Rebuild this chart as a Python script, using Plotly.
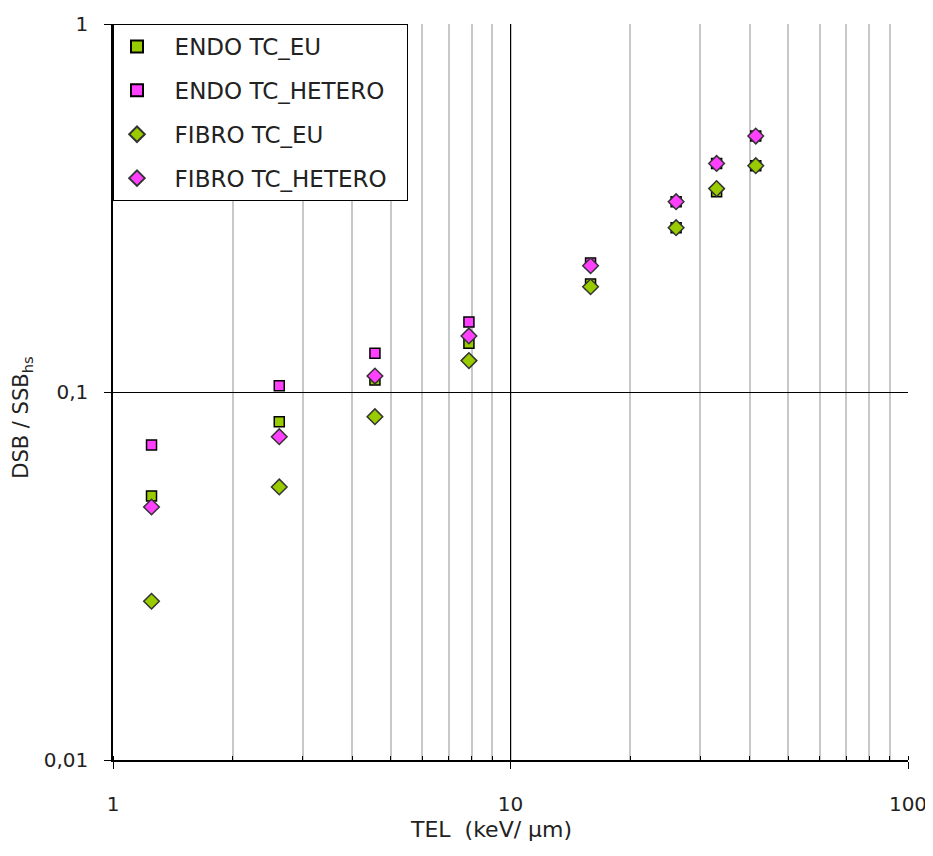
import plotly.graph_objects as go

# TEL values (keV/µm), shared by all series
tel = [1.25, 2.62, 4.56, 7.86, 15.9, 26.1, 33.0, 41.4]

endo_eu = [0.0522, 0.0830, 0.1078, 0.1356, 0.1965, 0.2796, 0.350, 0.412]
endo_hetero = [0.0718, 0.104, 0.1274, 0.155, 0.224, 0.329, 0.418, 0.496]
fibro_eu = [0.0270, 0.0552, 0.0857, 0.1217, 0.1932, 0.2796, 0.357, 0.412]
fibro_hetero = [0.0487, 0.0756, 0.1105, 0.142, 0.2204, 0.329, 0.418, 0.496]

series_names = ["ENDO TC_EU", "ENDO TC_HETERO", "FIBRO TC_EU", "FIBRO TC_HETERO"]

y_tickvals = [0.01, 0.1, 1]
y_ticktext = ["0,01", "0,1", "1"]
x_tickvals = [1, 10, 100]
x_ticktext = ["1", "10", "100"]

x_title = "TEL  (keV/ µm)"
y_title = "DSB / SSB<sub>hs</sub>"

GREEN = "#99CC00"
PINK = "#FF40FF"
FONT = "DejaVu Sans"
TXT = "#222222"
NBSP = "\u00a0"

fig = go.Figure()
specs = [
    (endo_eu, series_names[0], "square", GREEN, "#000000", 10),
    (endo_hetero, series_names[1], "square", PINK, "#000000", 10),
    (fibro_eu, series_names[2], "diamond", GREEN, "#333333", 12),
    (fibro_hetero, series_names[3], "diamond", PINK, "#333333", 12),
]
for i, (vals, name, sym, col, lc, sz) in enumerate(specs):
    fig.add_trace(go.Scatter(
        x=tel, y=vals, mode="markers", name=NBSP * 2 + name + NBSP * 2,
        legendgroup=f"g{i}",
        marker=dict(symbol=sym, size=sz, color=col, line=dict(color=lc, width=1.5)),
    ))

fig.update_layout(
    width=925, height=848,
    margin=dict(l=105, r=25, t=16, b=96),
    plot_bgcolor="white", paper_bgcolor="white",
    font=dict(family=FONT, size=20, color=TXT),
    showlegend=True,
    legend=dict(
        x=0, y=1, xanchor="left", yanchor="top",
        bgcolor="white", bordercolor="black", borderwidth=1,
        font=dict(family=FONT, size=23, color=TXT),
        tracegroupgap=11, traceorder="grouped",
        itemsizing="constant", itemwidth=36,
    ),
    xaxis=dict(
        type="log", range=[0, 2], automargin=False,
        tickvals=x_tickvals, ticktext=x_ticktext,
        showgrid=True, gridcolor="black", gridwidth=1.2,
        minor=dict(showgrid=True, gridcolor="#c8c8c8", gridwidth=1.5, dtick="D1",
                   ticks="inside", ticklen=4, tickcolor="black"),
        showline=True, linecolor="black", linewidth=1.5, mirror=False,
        ticks="outside", ticklen=7, tickcolor="black",
        ticklabelstandoff=18,
        zeroline=False,
    ),
    yaxis=dict(
        type="log", range=[-2, 0], automargin=False,
        tickvals=y_tickvals, ticktext=y_ticktext,
        showgrid=True, gridcolor="black", gridwidth=1.2,
        showline=True, linecolor="black", linewidth=1.5,
        ticks="outside", ticklen=7, tickcolor="black",
        ticklabelstandoff=12,
        zeroline=False,
    ),
    annotations=[
        dict(text=x_title, xref="paper", yref="paper", x=0.476, y=-0.095,
             xanchor="center", yanchor="middle", showarrow=False,
             font=dict(size=22, color=TXT)),
        dict(text=y_title, xref="paper", yref="paper", x=-0.1145, y=0.465,
             xanchor="center", yanchor="middle", showarrow=False, textangle=-90,
             font=dict(size=21, color=TXT)),
    ],
)

fig.write_html("out.html")
